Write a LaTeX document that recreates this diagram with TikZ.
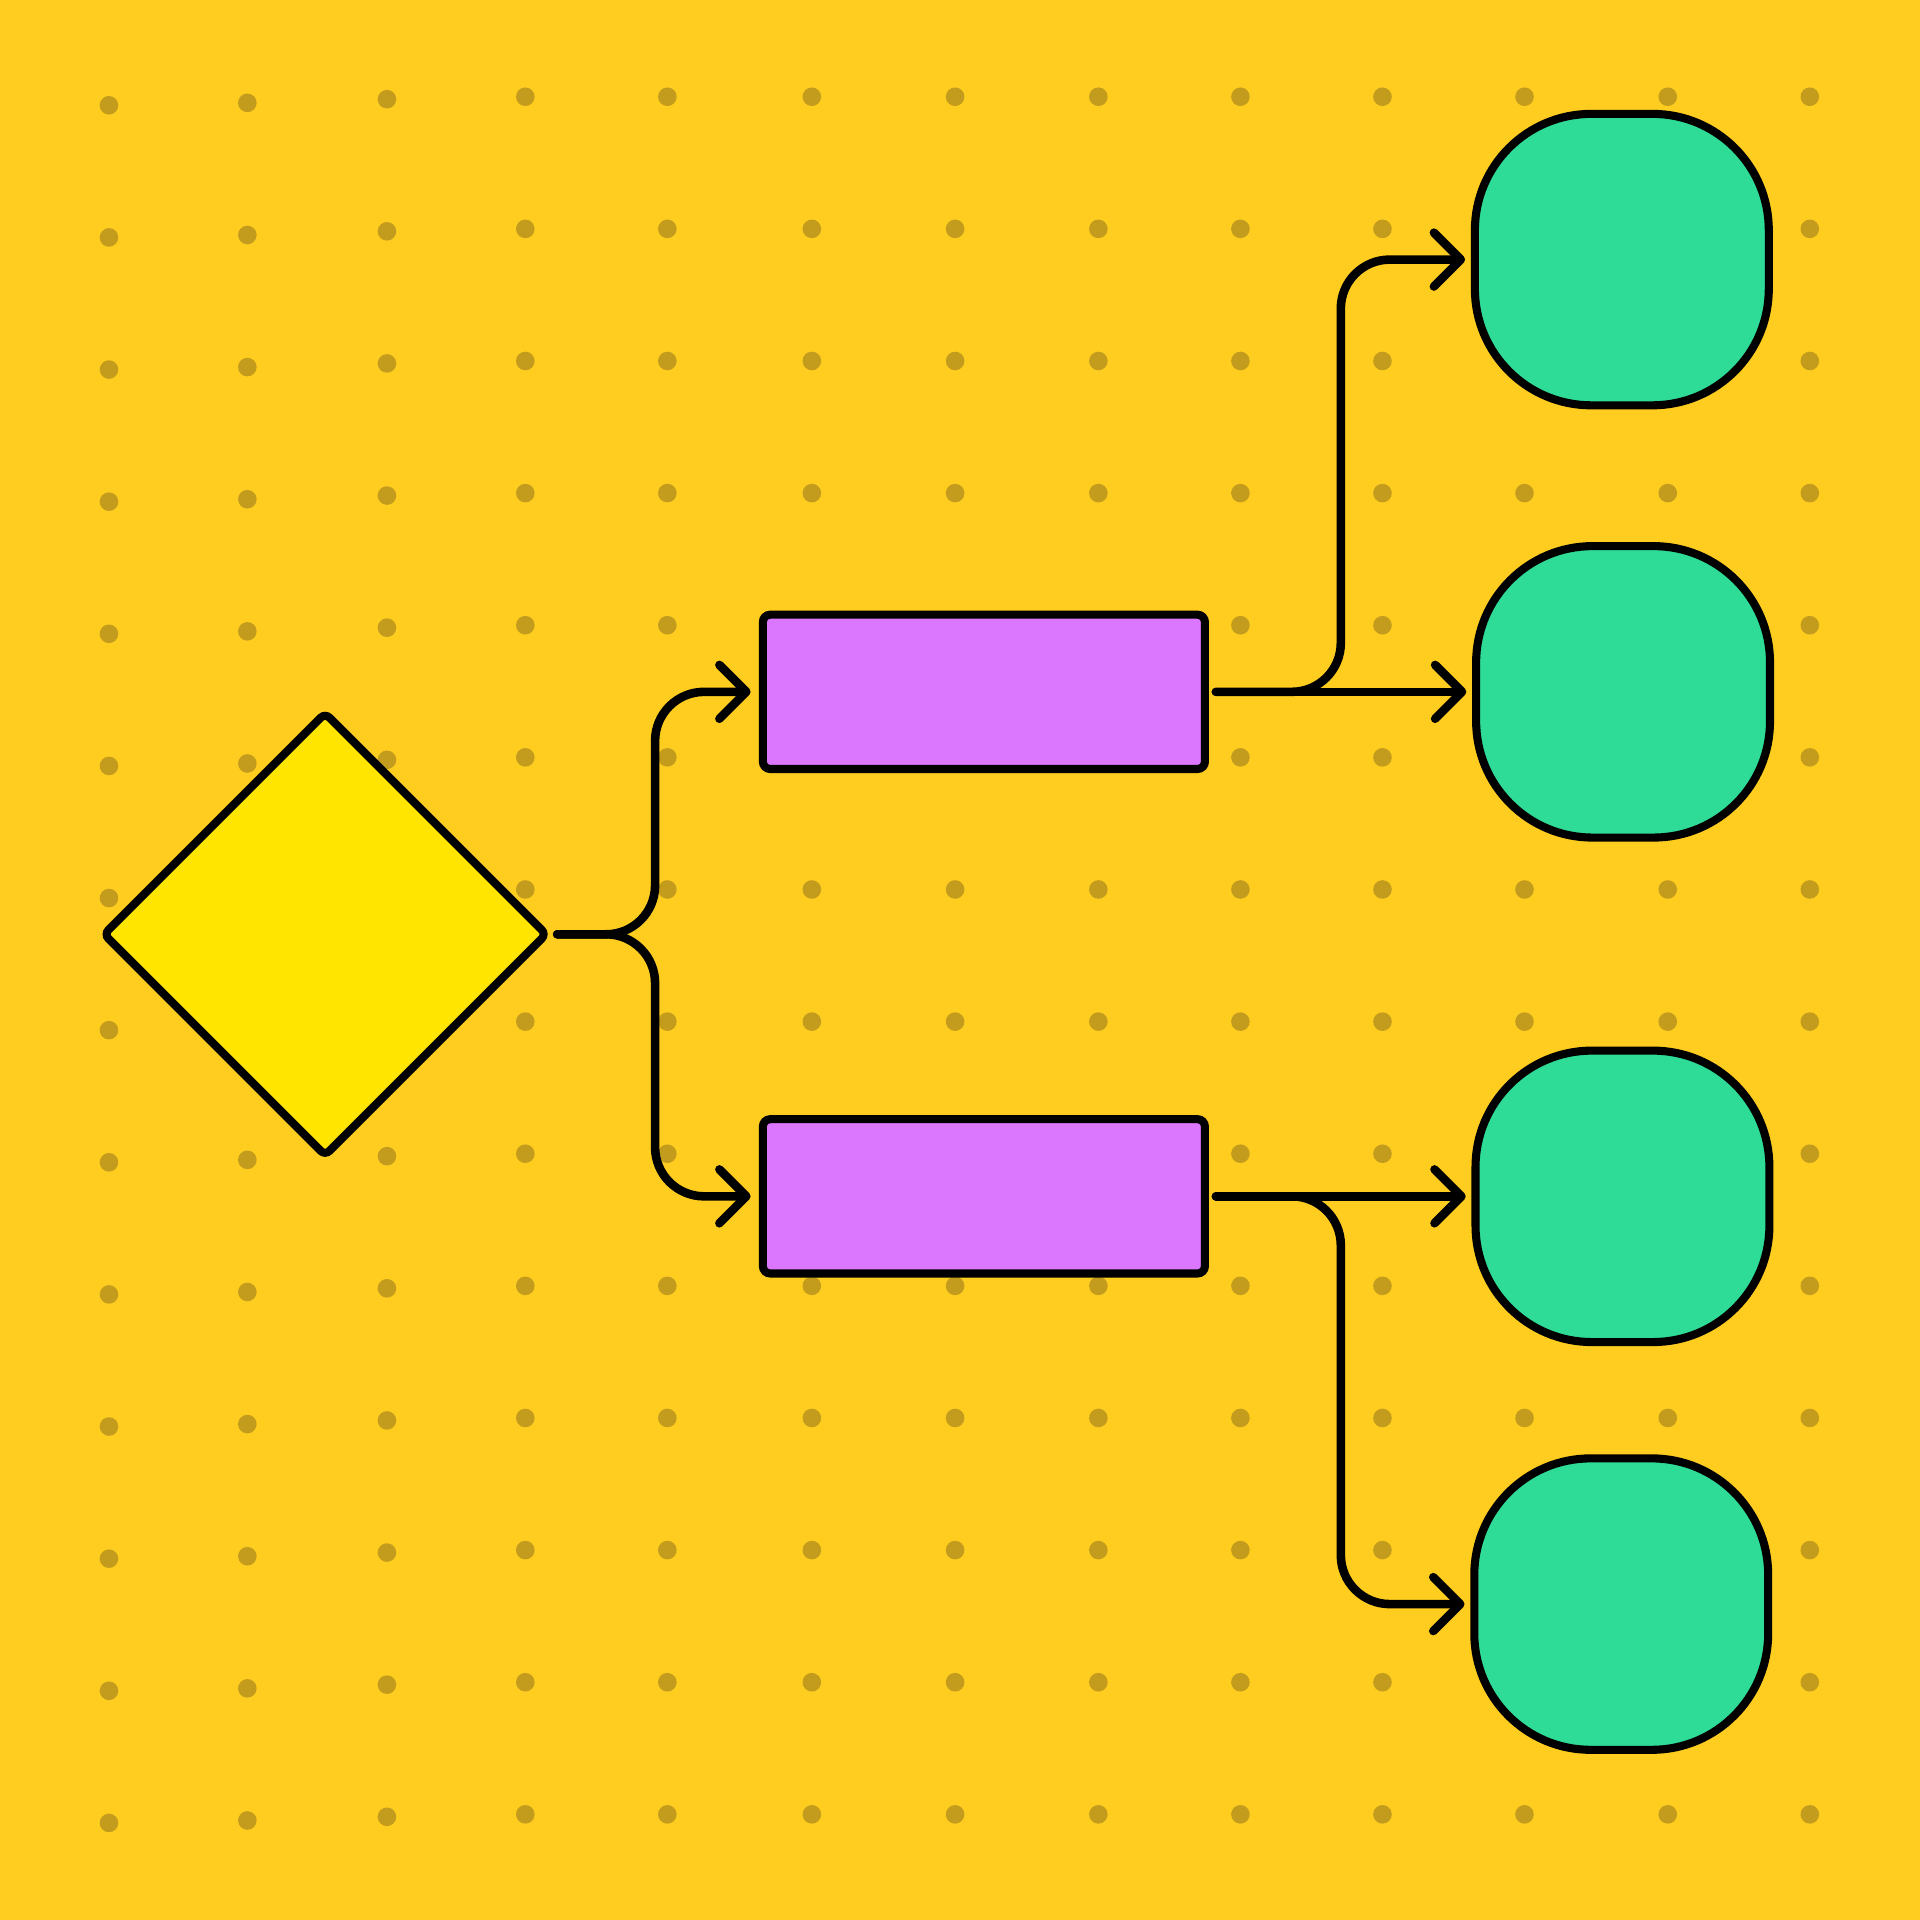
\documentclass[tikz,border=0pt]{standalone}
\usetikzlibrary{arrows.meta,shapes.geometric,calc}
\definecolor{bgc}{HTML}{FFCD1F}
\definecolor{dotc}{HTML}{C39C1E}
\definecolor{diac}{HTML}{FFE500}
\definecolor{purc}{HTML}{DA77FE}
\definecolor{grnc}{HTML}{2EDB97}
\begin{document}
\begin{tikzpicture}[x=0.5pt,y=-0.5pt,
  conn/.style={line width=3.5pt, line cap=round, line join=round, rounded corners=20pt,
    -{Straight Barb[length=11pt,width=22pt,round]}},
  diam/.style={shape=diamond, draw, fill=diac, line width=3.3pt, minimum width=180.5pt,
    minimum height=180.5pt, inner sep=0pt, aspect=1, rounded corners=2.5pt, outer sep=0pt},
  procbox/.style={draw, fill=purc, line width=3.3pt, minimum width=180.5pt, minimum height=63pt,
    inner sep=0pt, rounded corners=3pt, outer sep=0pt},
  endbox/.style={draw, fill=grnc, line width=3.3pt, minimum width=120pt, minimum height=119pt,
    inner sep=0pt, rounded corners=47.5pt, outer sep=0pt}]
\fill[bgc] (0,0) rectangle (1568,1568);
\useasboundingbox (0,0) rectangle (1568,1568);
\foreach \x/\o in {89/7,202/5,316/2,429/0,545/0,663/0,780/0,897/0,1013/0,1129/0,1245/0,1362/0,1478/0}
  \foreach \k in {0,...,13}
    \fill[dotc] (\x,{79+107.9*\k+\o}) circle[radius=3.8pt];
\node[diam] (dia) at (265.5,763) {};
\node[procbox] (r1) at (803.5,565) {};
\node[procbox] (r2) at (803.5,977) {};
\node[endbox] (g1) at (1324.5,212) {};
\node[endbox] (g2) at (1325.5,565) {};
\node[endbox] (g3) at (1325,977) {};
\node[endbox] (g4) at (1324,1310) {};
\draw[conn] ($(dia.east)+(9,0)$) -- ++(80,0) |- ($(r1.west)+(-10,0)$);
\draw[conn] ($(dia.east)+(9,0)$) -- ++(80,0) |- ($(r2.west)+(-10,0)$);
\draw[conn] ($(r1.east)+(9,0)$) -- ++(102,0) |- ($(g1.west)+(-8,0)$);
\draw[conn] ($(r1.east)+(9,0)$) -- ($(g2.west)+(-8,0)$);
\draw[conn] ($(r2.east)+(9,0)$) -- ($(g3.west)+(-8,0)$);
\draw[conn] ($(r2.east)+(9,0)$) -- ++(102,0) |- ($(g4.west)+(-8,0)$);
\end{tikzpicture}
\end{document}
